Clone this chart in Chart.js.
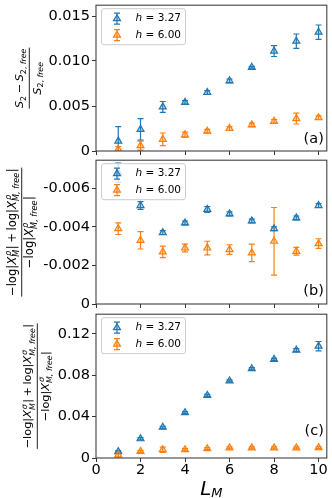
<!DOCTYPE html>
<html lang="en">
<head>
<meta charset="UTF-8">
<title>L_M panels</title>
<script src="https://cdn.jsdelivr.net/npm/chart.js"></script>
<style>
  body { margin: 0; background: #fff; }
  #wrap { position: relative; width: 332px; height: 498px; overflow: hidden; }
  canvas { position: absolute; left: 0; }
</style>
</head>
<body>
<div id="wrap">
  <canvas id="panelA" width="332" height="158" style="top:0"></canvas>
  <canvas id="panelB" width="332" height="158" style="top:155px"></canvas>
  <canvas id="panelC" width="332" height="189" style="top:309px"></canvas>
</div>
<script>
// shared x values
const L_M = [1, 2, 3, 4, 5, 6, 7, 8, 9, 10];
const xTicks = [0, 2, 4, 6, 8, 10];
const hValues = ['3.27', '6.00'];
const colors = ['#1f77b4', '#ff7f0e'];
const fills = ['rgba(31,119,180,0.25)', 'rgba(255,127,14,0.25)'];

// panel (a)
const a_h327 = [0.0011, 0.0024, 0.0049, 0.0054, 0.0065, 0.0078, 0.0093, 0.0111, 0.0122, 0.0132];
const a_h327_err = [0.0016, 0.0012, 0.0006, 0.0002, 0.0002, 0.0002, 0.0001, 0.0006, 0.0008, 0.0008];
const a_h600 = [0.0002, 0.0006, 0.0013, 0.0018, 0.0022, 0.0025, 0.0029, 0.0033, 0.0036, 0.0037];
const a_h600_err = [0.0003, 0.0005, 0.0007, 0.0003, 0.0002, 0.0002, 0.0002, 0.0002, 0.0006, 0.0002];
const a_ticks = [0, 0.005, 0.010, 0.015];
const a_labels = ['0', '0.005', '0.010', '0.015'];

// panel (b)
const b_h327 = [-0.0068, -0.0051, -0.0037, -0.0042, -0.0049, -0.00467, -0.0043, -0.0039, -0.00446, -0.0051];
const b_h327_err = [0.0005, 0.0002, 0.0001, 0.0001, 0.00015, 0.0001, 0.0001, 0.0001, 0.0001, 0.0001];
const b_h600 = [-0.0039, -0.0033, -0.0027, -0.0029, -0.0029, -0.00282, -0.00265, -0.00325, -0.00273, -0.00313];
const b_h600_err = [0.0003, 0.00045, 0.0003, 0.0002, 0.00035, 0.00025, 0.00045, 0.00175, 0.0002, 0.00025];
const b_ticks = [-0.006, -0.004, -0.002, 0];
const b_labels = ['-0.006', '-0.004', '-0.002', '0'];

// panel (c)
const c_h327 = [0.0062, 0.0186, 0.0297, 0.0438, 0.0605, 0.0745, 0.0863, 0.0953, 0.1043, 0.1081];
const c_h327_err = [0.001, 0.001, 0.001, 0.001, 0.001, 0.001, 0.001, 0.001, 0.0015, 0.0045];
const c_h600 = [0.003, 0.0064, 0.008, 0.008, 0.009, 0.0098, 0.0098, 0.0098, 0.0098, 0.010];
const c_h600_err = [0.003, 0.001, 0.0025, 0.001, 0.001, 0.001, 0.001, 0.001, 0.001, 0.001];
const c_ticks = [0, 0.04, 0.08, 0.12];
const c_labels = ['0', '0.04', '0.08', '0.12'];

Chart.defaults.font.family = '"DejaVu Sans", sans-serif';
Chart.defaults.color = '#000';

// rich text pieces for the y labels (mathtext style)
const subFree = [{ t: '2, ' }, { t: 'free', i: 1 }];
function chiNum(g) {
  return [{ t: '−log|' }, { t: 'X', i: 1 }, { sup: [{ t: g, i: 1 }], sub: [{ t: 'M', i: 1 }] }, { t: '|' },
    { sp: 0.22 }, { t: '+' }, { sp: 0.22 }, { t: 'log|' }, { t: 'X', i: 1 },
    { sup: [{ t: g, i: 1 }], sub: [{ t: 'M, free', i: 1 }] }, { t: '|' }];
}
function chiDen(g) {
  return [{ t: '−log|' }, { t: 'X', i: 1 }, { sup: [{ t: g, i: 1 }], sub: [{ t: 'M, free', i: 1 }] }, { t: '|' }];
}
const panelText = {
  panelA: { tag: '(a)', tagUp: 12, barX: 29.3, barLen: 61,
    num: [{ t: 'S', i: 1 }, { sub: [{ t: '2' }] }, { sp: 0.22 }, { t: '−' }, { sp: 0.22 }, { t: 'S', i: 1 }, { sub: subFree }],
    den: [{ t: 'S', i: 1 }, { sub: subFree }] },
  panelB: { tag: '(b)', tagUp: 12.5, barX: 21.7, barLen: 129, num: chiNum('ρ'), den: chiDen('ρ') },
  panelC: { tag: '(c)', tagUp: 26.5, barX: 37.3, barLen: 125.5, num: chiNum('σ'), den: chiDen('σ'), xTitle: true }
};

function fnt(sz, it) { return (it ? 'italic ' : '') + sz + 'px "DejaVu Sans"'; }

function drawRuns(ctx, runs, x, y, fs, draw) {
  let cx = x;
  for (const r of runs) {
    if (r.sp !== undefined) { cx += r.sp * fs; continue; }
    if (r.t !== undefined) {
      ctx.font = fnt(fs, r.i);
      if (draw) ctx.fillText(r.t, cx, y);
      cx += ctx.measureText(r.t).width;
      continue;
    }
    const ss = fs * 0.7;
    let w1 = 0, w2 = 0;
    const subDrop = r.sup ? 0.3 * fs : 0.2 * fs;
    if (r.sup) w1 = drawRuns(ctx, r.sup, cx + 0.08 * fs, y - 0.42 * fs, ss, draw) - cx;
    if (r.sub) w2 = drawRuns(ctx, r.sub, cx, y + subDrop, ss, draw) - cx;
    cx += Math.max(w1, w2) + 0.04 * fs;
  }
  return cx;
}

function drawFraction(ctx, cx, cy, num, den, target) {
  const base = 10;
  const wn = drawRuns(ctx, num, 0, 0, base, false);
  const wd = drawRuns(ctx, den, 0, 0, base, false);
  const fs = base * (target - 1) / Math.max(wn, wd);
  const wN = wn * fs / base, wD = wd * fs / base;
  const bar = Math.max(wN, wD) + 1;
  ctx.save();
  ctx.translate(cx, cy);
  ctx.rotate(-Math.PI / 2);
  ctx.fillStyle = '#000';
  ctx.textAlign = 'left';
  ctx.textBaseline = 'alphabetic';
  drawRuns(ctx, num, -wN / 2, -(2.5 + 0.3 * fs), fs, true);
  drawRuns(ctx, den, -wD / 2, 2.5 + 0.78 * fs, fs, true);
  ctx.fillStyle = '#222';
  ctx.fillRect(-bar / 2, -0.5, bar, 1);
  ctx.restore();
}

function triangle(ctx, x, y, r, stroke, fill) {
  ctx.beginPath();
  ctx.moveTo(x, y - r);
  ctx.lineTo(x + 0.866 * r, y + 0.5 * r);
  ctx.lineTo(x - 0.866 * r, y + 0.5 * r);
  ctx.closePath();
  ctx.fillStyle = fill; ctx.fill();
  ctx.strokeStyle = stroke; ctx.lineWidth = 1.2; ctx.stroke();
}

function errBar(ctx, x, y1, y2, cap) {
  ctx.beginPath();
  ctx.moveTo(x, y1); ctx.lineTo(x, y2);
  ctx.moveTo(x - cap, y1); ctx.lineTo(x + cap, y1);
  ctx.moveTo(x - cap, y2); ctx.lineTo(x + cap, y2);
  ctx.stroke();
}

const decor = {
  id: 'decor',
  beforeDatasetsDraw(chart) {
    const { ctx, chartArea: ca } = chart;
    const y = chart.scales.y;
    ctx.save();
    ctx.beginPath();
    ctx.rect(ca.left, ca.top, ca.right - ca.left, ca.bottom - ca.top);
    ctx.clip();
    ctx.lineWidth = 1.2;
    chart.data.datasets.forEach((ds, i) => {
      ctx.strokeStyle = ds.borderColor;
      chart.getDatasetMeta(i).data.forEach((pt, j) => {
        const v = ds.data[j].y, e = ds.errors[j];
        errBar(ctx, pt.x, y.getPixelForValue(v + e), y.getPixelForValue(v - e), 3);
      });
    });
    ctx.restore();
  },
  afterDraw(chart) {
    const { ctx, chartArea: ca } = chart;
    const p = panelText[chart.canvas.id];
    ctx.save();
    // legend
    const lx = ca.left + 5.5, ly = ca.top + 3.5, lw = 84, lh = 36;
    ctx.beginPath();
    ctx.roundRect(lx, ly, lw, lh, 2.5);
    ctx.fillStyle = 'rgba(255,255,255,0.8)';
    ctx.fill();
    ctx.strokeStyle = '#cccccc';
    ctx.lineWidth = 1;
    ctx.stroke();
    chart.data.datasets.forEach((ds, k) => {
      const cy = ly + 10 + k * 16.5, cx = lx + 15.5;
      ctx.strokeStyle = ds.borderColor;
      ctx.lineWidth = 1.2;
      errBar(ctx, cx, cy - 5.5, cy + 5.5, 3);
      triangle(ctx, cx, cy, 4, ds.borderColor, ds.backgroundColor);
      ctx.fillStyle = '#000';
      ctx.textBaseline = 'middle';
      ctx.textAlign = 'left';
      ctx.font = fnt(10.5, true);
      ctx.fillText('h', lx + 34, cy);
      const hw = ctx.measureText('h').width;
      ctx.font = fnt(10.5, false);
      ctx.fillText(' = ' + hValues[k], lx + 34 + hw, cy);
    });
    // frame
    ctx.strokeStyle = '#404040';
    ctx.lineWidth = 1.1;
    ctx.strokeRect(ca.left, ca.top, ca.right - ca.left, ca.bottom - ca.top);
    // panel tag
    ctx.fillStyle = '#000';
    ctx.font = fnt(14.5, false);
    ctx.textAlign = 'right';
    ctx.textBaseline = 'middle';
    ctx.fillText(p.tag, ca.right - 3, ca.bottom - p.tagUp);
    // y label
    drawFraction(ctx, p.barX, (ca.top + ca.bottom) / 2, p.num, p.den, p.barLen);
    // x label
    if (p.xTitle) {
      ctx.textAlign = 'left';
      ctx.textBaseline = 'alphabetic';
      ctx.font = fnt(20, true);
      const wl = ctx.measureText('L').width;
      ctx.font = fnt(13, true);
      const wm = ctx.measureText('M').width;
      const x0 = (ca.left + ca.right) / 2 - (wl + wm) / 2;
      ctx.font = fnt(20, true);
      ctx.fillText('L', x0, chart.height - 3);
      ctx.font = fnt(13, true);
      ctx.fillText('M', x0 + wl, chart.height - 1);
    }
    ctx.restore();
  }
};

function makeDatasets(v1, e1, v2, e2) {
  return [[v1, e1], [v2, e2]].map(([vals, errs], k) => ({
    label: 'h = ' + hValues[k],
    data: L_M.map((x, i) => ({ x: x, y: vals[i] })),
    errors: errs,
    order: 1 - k,
    borderColor: colors[k],
    backgroundColor: fills[k],
    pointStyle: 'triangle',
    pointRadius: 4,
    pointBorderWidth: 1.2,
    showLine: false
  }));
}

function xAxis(showLabels, height) {
  return {
    type: 'linear', min: 0, max: 10.37,
    afterBuildTicks: s => { s.ticks = xTicks.map(v => ({ value: v })); },
    afterFit: s => { s.height = height; s.paddingLeft = 0; s.paddingRight = 0; },
    ticks: { display: showLabels, padding: 0, maxRotation: 0, font: { size: 14.5 }, callback: v => String(v) },
    grid: { drawOnChartArea: false, tickLength: 4, color: '#333' },
    border: { display: false }
  };
}

function yAxis(ticks, labels, min, max, reverse) {
  return {
    type: 'linear', min: min, max: max, reverse: reverse,
    afterBuildTicks: s => { s.ticks = ticks.map(v => ({ value: v })); },
    afterFit: s => { s.width = 96; s.paddingTop = 0; s.paddingBottom = 0; },
    ticks: { padding: 2, font: { size: 14.5 }, callback: (v, i) => labels[i] },
    grid: { drawOnChartArea: false, tickLength: 4, color: '#333' },
    border: { display: false }
  };
}

function makeChart(id, datasets, x, y) {
  return new Chart(document.getElementById(id), {
    type: 'scatter',
    data: { datasets: datasets },
    options: {
      responsive: false,
      animation: false,
      events: [],
      layout: { padding: { left: 0, right: 4, top: 4, bottom: 0 } },
      scales: { x: x, y: y },
      plugins: { legend: { display: false }, tooltip: { enabled: false } }
    },
    plugins: [decor]
  });
}

makeChart('panelA', makeDatasets(a_h327, a_h327_err, a_h600, a_h600_err),
  xAxis(false, 7), yAxis(a_ticks, a_labels, 0, 0.0162, false));
makeChart('panelB', makeDatasets(b_h327, b_h327_err, b_h600, b_h600_err),
  xAxis(false, 9), yAxis(b_ticks, b_labels, -0.00745, 0, true));
makeChart('panelC', makeDatasets(c_h327, c_h327_err, c_h600, c_h600_err),
  xAxis(true, 40), yAxis(c_ticks, c_labels, 0, 0.139, false));
</script>
</body>
</html>
